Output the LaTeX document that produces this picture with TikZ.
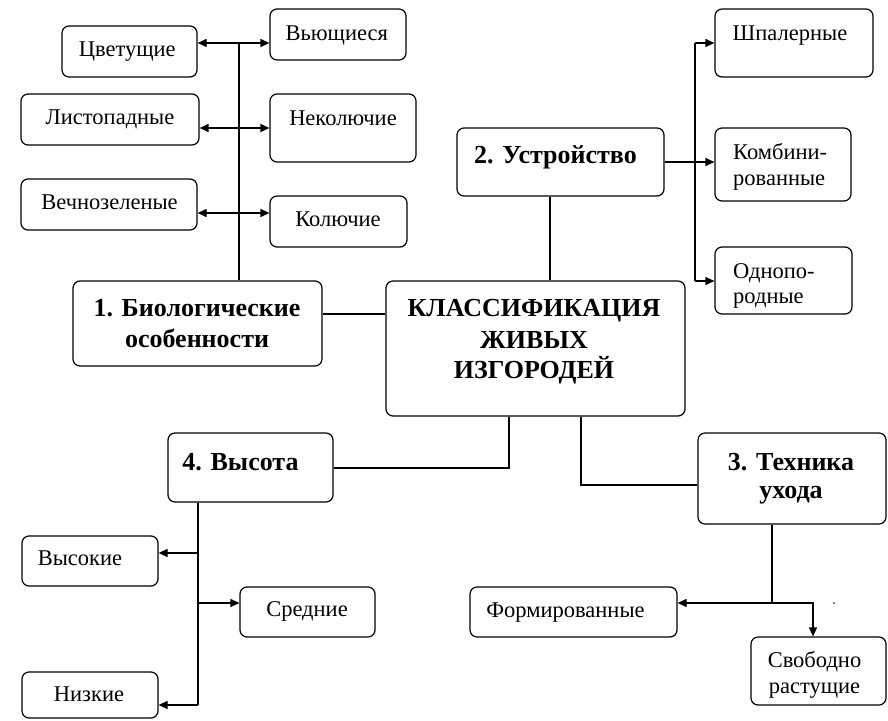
\documentclass[tikz,border=0pt]{standalone}
\usepackage{fontspec}
\setmainfont{Liberation Serif}
\usetikzlibrary{arrows.meta}
\begin{document}
\begin{tikzpicture}[x=1pt,y=-1pt,
  bx/.style={draw, line width=1.2pt, rounded corners=7pt, inner sep=0pt},
  tx/.style={font=\fontsize{22.5}{26}\selectfont, inner sep=0pt, anchor=base},
  txw/.style={font=\fontsize{22.5}{26}\selectfont, inner sep=0pt, anchor=base west},
  bt/.style={font=\fontsize{26}{31}\selectfont\bfseries, inner sep=0pt, anchor=base},
  ln/.style={line width=1.2pt},
  ar/.style={line width=1.2pt, -{Triangle[length=9pt,width=8pt]}},
  ar2/.style={line width=1.2pt, {Triangle[length=9pt,width=8pt]}-{Triangle[length=9pt,width=8pt]}}
]
\useasboundingbox (0,0) rectangle (888,720);
% boxes
\node[bx, minimum width=135pt, minimum height=51pt] (cvet) at (129.5,51.5) {};
\node[bx, minimum width=136pt, minimum height=51pt] (vyu) at (338,34.5) {};
\node[bx, minimum width=178pt, minimum height=51pt] (list) at (110,119.5) {};
\node[bx, minimum width=146pt, minimum height=68pt] (nekol) at (343,128) {};
\node[bx, minimum width=176pt, minimum height=51pt] (vech) at (109,204.5) {};
\node[bx, minimum width=137pt, minimum height=51pt] (kol) at (338.5,221.5) {};
\node[bx, minimum width=249pt, minimum height=85pt] (bio) at (197.5,323.5) {};
\node[bx, minimum width=299pt, minimum height=135pt] (main) at (535.5,348.5) {};
\node[bx, minimum width=207pt, minimum height=68pt] (ustr) at (560.5,162) {};
\node[bx, minimum width=158pt, minimum height=68pt] (shp) at (794,43) {};
\node[bx, minimum width=136pt, minimum height=73pt] (komb) at (783,164.5) {};
\node[bx, minimum width=137pt, minimum height=67pt] (odno) at (783.5,280.5) {};
\node[bx, minimum width=165pt, minimum height=69pt] (vys) at (250.5,467.5) {};
\node[bx, minimum width=188pt, minimum height=91pt] (tekh) at (792,478.5) {};
\node[bx, minimum width=136pt, minimum height=50pt] (vysok) at (90,561) {};
\node[bx, minimum width=135pt, minimum height=50pt] (sred) at (307.5,612) {};
\node[bx, minimum width=136pt, minimum height=46pt] (nizk) at (90,695) {};
\node[bx, minimum width=207pt, minimum height=50pt] (form) at (573.5,612) {};
\node[bx, minimum width=135pt, minimum height=68pt] (svob) at (818.5,671) {};
% texts
\node[tx] (tcvet) at (127.2,56) {Цветущие};
\node[tx] (tvyu) at (336.8,40) {Вьющиеся};
\node[tx] (tlist) at (110,124.3) {Листопадные};
\node[tx] (tnekol) at (343,125.7) {Неколючие};
\node[tx] (tvech) at (109.5,209.3) {Вечнозеленые};
\node[tx] (tkol) at (338,226.7) {Колючие};
\node[bt] (tbio1) at (197,316) {1. Биологические};
\node[bt] (tbio2) at (197,347.7) {особенности};
\node[tx] (tshp) at (790,40) {Шпалерные};
\node[bt] (tustr) at (555.5,163.3) {2. Устройство};
\node[txw] (tkomb1) at (733,159.3) {Комбини-};
\node[txw] (tkomb2) at (733,185) {рованные};
\node[txw] (todno1) at (733,278.3) {Однопо-};
\node[txw] (todno2) at (733,303.3) {родные};
\node[bt] (tmain1) at (534,316.7) {КЛАССИФИКАЦИЯ};
\node[bt] (tmain2) at (534,348.3) {ЖИВЫХ};
\node[bt] (tmain3) at (534,378.3) {ИЗГОРОДЕЙ};
\node[bt] (tvys) at (240.5,470) {4. Высота};
\node[bt] (ttekh1) at (791,470) {3. Техника};
\node[bt] (ttekh2) at (791,498.3) {ухода};
\node[tx] (tvysok) at (80,565) {Высокие};
\node[tx] (tsred) at (307,616.7) {Средние};
\node[tx] (tform) at (565.5,617.3) {Формированные};
\node[tx] (tnizk) at (89,701) {Низкие};
\node[tx] (tsvob1) at (814.5,667.7) {Свободно};
\node[tx] (tsvob2) at (814.5,693.3) {растущие};
% connectors: biological
\coordinate (j1) at (239,43);
\coordinate (j2) at (239,128);
\coordinate (j3) at (239,213);
\draw[ln] (bio.north -| j1) -- (j1);
\draw[ar2] (cvet.east |- j1) -- (vyu.west |- j1);
\draw[ar2] (list.east |- j2) -- (nekol.west |- j2);
\draw[ar2] (vech.east |- j3) -- (kol.west |- j3);
\coordinate (b1) at (350,314);
\draw[ln] (bio.east |- b1) -- (main.west |- b1);
% ustroistvo
\coordinate (u1) at (550,0);
\draw[ln] (ustr.south -| u1) -- (main.north -| u1);
\coordinate (k1) at (695,43);
\coordinate (k2) at (695,162);
\coordinate (k3) at (695,281);
\draw[ln] (ustr.east |- k2) -- (k2);
\draw[ln] (k1) -- (k3);
\draw[ar] (k1) -- (shp.west |- k1);
\draw[ar] (k2) -- (komb.west |- k2);
\draw[ar] (k3) -- (odno.west |- k3);
% main bottom
\coordinate (m1) at (509,468);
\draw[ln] (main.south -| m1) -- (m1) -- (vys.east |- m1);
\coordinate (m2) at (581,485);
\draw[ln] (main.south -| m2) -- (m2) -- (tekh.west |- m2);
% tekhnika
\coordinate (f1) at (772,603);
\coordinate (f2) at (813,603);
\draw[ln] (tekh.south -| f1) -- (f1);
\draw[ar] (f1) -- (form.east |- f1);
\draw[ar] (f1) -- (f2) -- (svob.north -| f2);
\fill (834,603) circle (0.8pt);
% vysota
\coordinate (h1) at (198,553);
\coordinate (h2) at (198,603);
\coordinate (h3) at (198,705);
\draw[ln] (vys.south -| h1) -- (h3);
\draw[ar] (h1) -- (vysok.east |- h1);
\draw[ar] (h2) -- (sred.west |- h2);
\draw[ar] (h3) -- (nizk.east |- h3);
\end{tikzpicture}
\end{document}
